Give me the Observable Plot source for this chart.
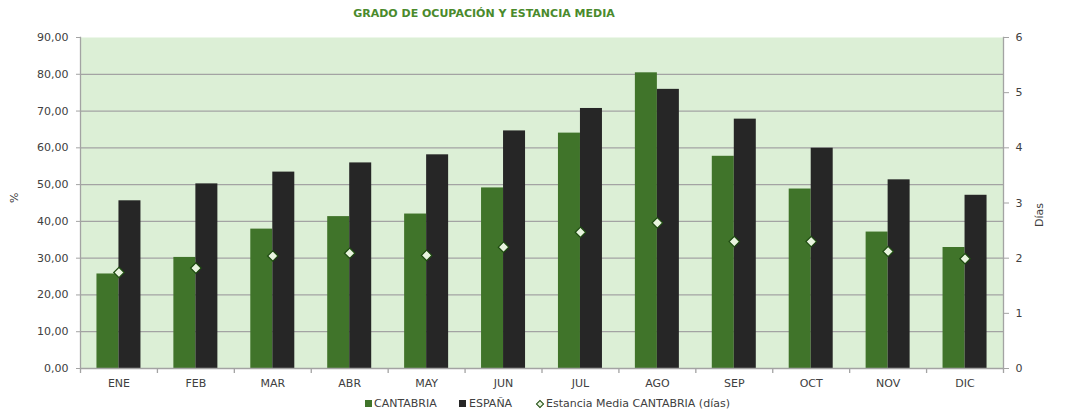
<!DOCTYPE html>
<html>
<head>
<meta charset="utf-8">
<script src="https://cdn.jsdelivr.net/npm/d3@7"></script>
<script src="https://cdn.jsdelivr.net/npm/@observablehq/plot@0.6"></script>
<style>
  html, body { margin: 0; padding: 0; background: #fff; }
  body { width: 1073px; height: 416px; overflow: hidden; font-family: "DejaVu Sans", sans-serif; color: #404040; }
  #title { height: 28px; line-height: 28px; width: 1073px; box-sizing: border-box; padding-right: 105px; text-align: center; font-weight: bold; font-size: 11px; color: #4a8a2c; }
  #legend { position: relative; height: 20px; width: 1073px; font-size: 11px; }
  #legend .sw { position: absolute; top: 4px; width: 7px; height: 7px; }
  #legend .lb { position: absolute; top: 0; line-height: 16px; white-space: nowrap; }
  #legend .dm { position: absolute; top: 5px; width: 4px; height: 4px; transform: rotate(45deg); background: #e8f4de; border: 1px solid #1d4a10; }
</style>
</head>
<body>
<div id="title">GRADO DE OCUPACIÓN Y ESTANCIA MEDIA</div>
<div id="chart"></div>
<div id="legend">
  <span class="sw" style="left:365px;background:#40742a"></span><span class="lb" style="left:374px">CANTABRIA</span>
  <span class="sw" style="left:459px;background:#262626"></span><span class="lb" style="left:469px">ESPAÑA</span>
  <span class="dm" style="left:537px"></span><span class="lb" style="left:546px">Estancia Media CANTABRIA (días)</span>
</div>
<script>
const months = ["ENE","FEB","MAR","ABR","MAY","JUN","JUL","AGO","SEP","OCT","NOV","DIC"];
const cantabria = [25.7, 30.2, 37.9, 41.3, 42.0, 49.1, 64.0, 80.4, 57.7, 48.8, 37.1, 32.9];
const espana = [45.6, 50.2, 53.4, 55.9, 58.1, 64.6, 70.7, 75.9, 67.8, 59.9, 51.3, 47.1];
const estancia = [1.74, 1.82, 2.04, 2.09, 2.05, 2.20, 2.47, 2.64, 2.30, 2.30, 2.12, 1.99];
const leftTicks = [0,10,20,30,40,50,60,70,80,90];
const rightTicks = [0,1,2,3,4,5,6];
const daysToPct = 15; // 6 días = 90 %

const data = months.map((m, i) => ({mes: m, cant: cantabria[i], esp: espana[i], dias: estancia[i]}));

const W = 1073, ML = 80, MR = 70;
const band = (W - ML - MR) / months.length;
const barW = 22;
const grid = "#a3a3a3";

const fmt = d => d.toFixed(2).replace(".", ",");

const chart = Plot.plot({
  width: W,
  height: 368,
  marginLeft: ML,
  marginRight: MR,
  marginTop: 9,
  marginBottom: 28,
  style: {fontFamily: "DejaVu Sans, sans-serif", fontSize: "11px", color: "#404040", background: "transparent"},
  x: {domain: months, padding: 0, round: false, label: null},
  y: {domain: [0, 90], label: null},
  marks: [
    Plot.frame({fill: "#dcefd6", stroke: "none"}),
    Plot.gridY(leftTicks.filter(t => t > 0 && t < 90), {stroke: grid, strokeOpacity: 1, strokeWidth: 1.3}),
    Plot.barY(data, {x: "mes", y: "cant", fill: "#40742a", insetLeft: band / 2 - barW, insetRight: band / 2}),
    Plot.barY(data, {x: "mes", y: "esp", fill: "#262626", insetLeft: band / 2, insetRight: band / 2 - barW}),
    Plot.dot(data, {x: "mes", y: d => d.dias * daysToPct, symbol: "diamond2", r: 4.7, fill: "#e8f4de", stroke: "#1d4a10", strokeWidth: 1.2}),
    Plot.frame({anchor: "left", stroke: grid, strokeWidth: 1.3}),
    Plot.frame({anchor: "right", stroke: grid, strokeWidth: 1.3}),
    Plot.ruleY([0], {stroke: grid, strokeWidth: 1.3}),
    Plot.ruleX(months, {x: d => d, dx: -band / 2, stroke: grid, strokeWidth: 1.3, insetTop: 331, insetBottom: -5}),
    Plot.ruleX(months.slice(-1), {x: d => d, dx: band / 2, stroke: grid, strokeWidth: 1.3, insetTop: 331, insetBottom: -5}),
    Plot.axisX({tickSize: 0, tickPadding: 11, fill: "#404040", label: null}),
    Plot.axisY({ticks: leftTicks, tickFormat: fmt, tickSize: 4, tickPadding: 8, stroke: grid, fill: "#404040", label: null}),
    Plot.axisY({anchor: "right", ticks: rightTicks.map(d => d * daysToPct), tickFormat: d => String(d / daysToPct), tickSize: 5, tickPadding: 7, stroke: grid, fill: "#404040", label: null}),
    Plot.text(["%"], {frameAnchor: "left", dx: -66, rotate: -90, fill: "#404040"}),
    Plot.text(["Días"], {frameAnchor: "right", dx: 36, rotate: -90, fill: "#404040"})
  ]
});
document.getElementById("chart").append(chart);
</script>
</body>
</html>
